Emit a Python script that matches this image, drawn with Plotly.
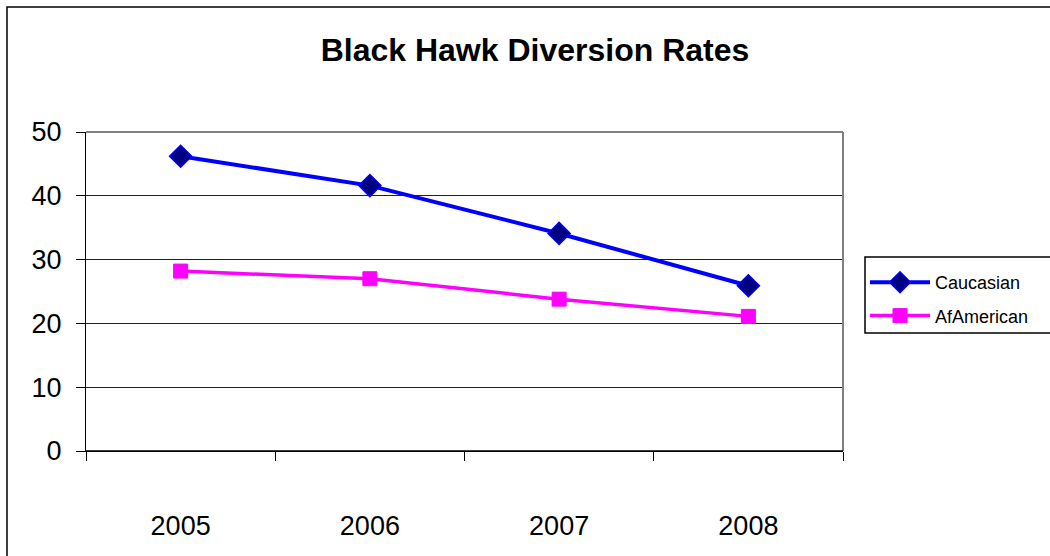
import plotly.graph_objects as go

years = ["2005", "2006", "2007", "2008"]
caucasian = [46.2, 41.6, 34.1, 25.9]
af_american = [28.2, 27.0, 23.8, 21.1]
y_ticks = [0, 10, 20, 30, 40, 50]

W, H = 1050, 556
L, R, T, B = 86, 207, 132, 105
pw, ph = W - L - R, H - T - B


def px_x(px):
    return (px - L) / pw


def px_y(py):
    return (H - B - py) / ph


fig = go.Figure()
fig.add_trace(go.Scatter(
    x=years, y=caucasian, name="Caucasian", mode="lines+markers",
    legendgroup="cauc",
    line=dict(color="#0000FF", width=4),
    marker=dict(symbol="diamond", size=17, color="#000080",
                line=dict(color="#0000FF", width=1.5)),
))
fig.add_trace(go.Scatter(
    x=years, y=af_american, name="AfAmerican", mode="lines+markers",
    legendgroup="afam",
    line=dict(color="#FF00FF", width=3.5),
    marker=dict(symbol="square", size=14, color="#FF00FF",
                line=dict(color="#FF00FF", width=1)),
))

fig.update_layout(
    width=W, height=H,
    margin=dict(l=L, r=R, t=T, b=B, autoexpand=False),
    paper_bgcolor="white", plot_bgcolor="white",
    font=dict(family="Liberation Sans, Arial, sans-serif", color="black"),
    title=dict(text="<b>Black Hawk Diversion Rates</b>",
               x=px_x(535), xref="paper", xanchor="center",
               y=1 - 50 / H, yanchor="middle",
               font=dict(size=32, color="black")),
    showlegend=True,
    legend=dict(x=px_x(865), y=px_y(264), xanchor="left", yanchor="top",
                borderwidth=0, bgcolor="rgba(0,0,0,0)",
                font=dict(size=18, color="black"),
                tracegroupgap=7, itemwidth=60),
    xaxis=dict(type="category", range=[-0.5, 3.5], showgrid=False,
               showline=True, linecolor="black", linewidth=1,
               ticks="outside", tickson="boundaries", ticklen=9,
               tickcolor="black", tickfont=dict(size=27),
               ticklabelstandoff=51, zeroline=False, fixedrange=True),
    yaxis=dict(range=[0, 50], tickvals=y_ticks, showgrid=True,
               gridcolor="#222222", gridwidth=1,
               showline=True, linecolor="black", linewidth=1,
               ticks="outside", ticklen=9, tickcolor="black",
               tickfont=dict(size=27), ticklabelstandoff=9,
               zeroline=False, fixedrange=True),
    shapes=[
        # gray plot-area frame on top and right
        dict(type="line", xref="paper", yref="paper", x0=0, x1=1, y0=1, y1=1,
             line=dict(color="#808080", width=2)),
        dict(type="line", xref="paper", yref="paper", x0=1, x1=1, y0=0, y1=1,
             line=dict(color="#808080", width=2)),
        dict(type="line", xref="paper", yref="paper", x0=0, x1=1, y0=0, y1=0,
             line=dict(color="black", width=1.5)),
        # legend frame
        dict(type="rect", xref="paper", yref="paper",
             x0=px_x(865), x1=px_x(1062), y0=px_y(333), y1=px_y(257),
             line=dict(color="black", width=1.5), fillcolor="white",
             layer="below"),
        # outer chart border
        dict(type="rect", xref="paper", yref="paper",
             x0=px_x(7), x1=px_x(1065), y0=px_y(575), y1=px_y(7),
             line=dict(color="black", width=1.5), layer="below"),
    ],
)

fig.write_html("out.html")
